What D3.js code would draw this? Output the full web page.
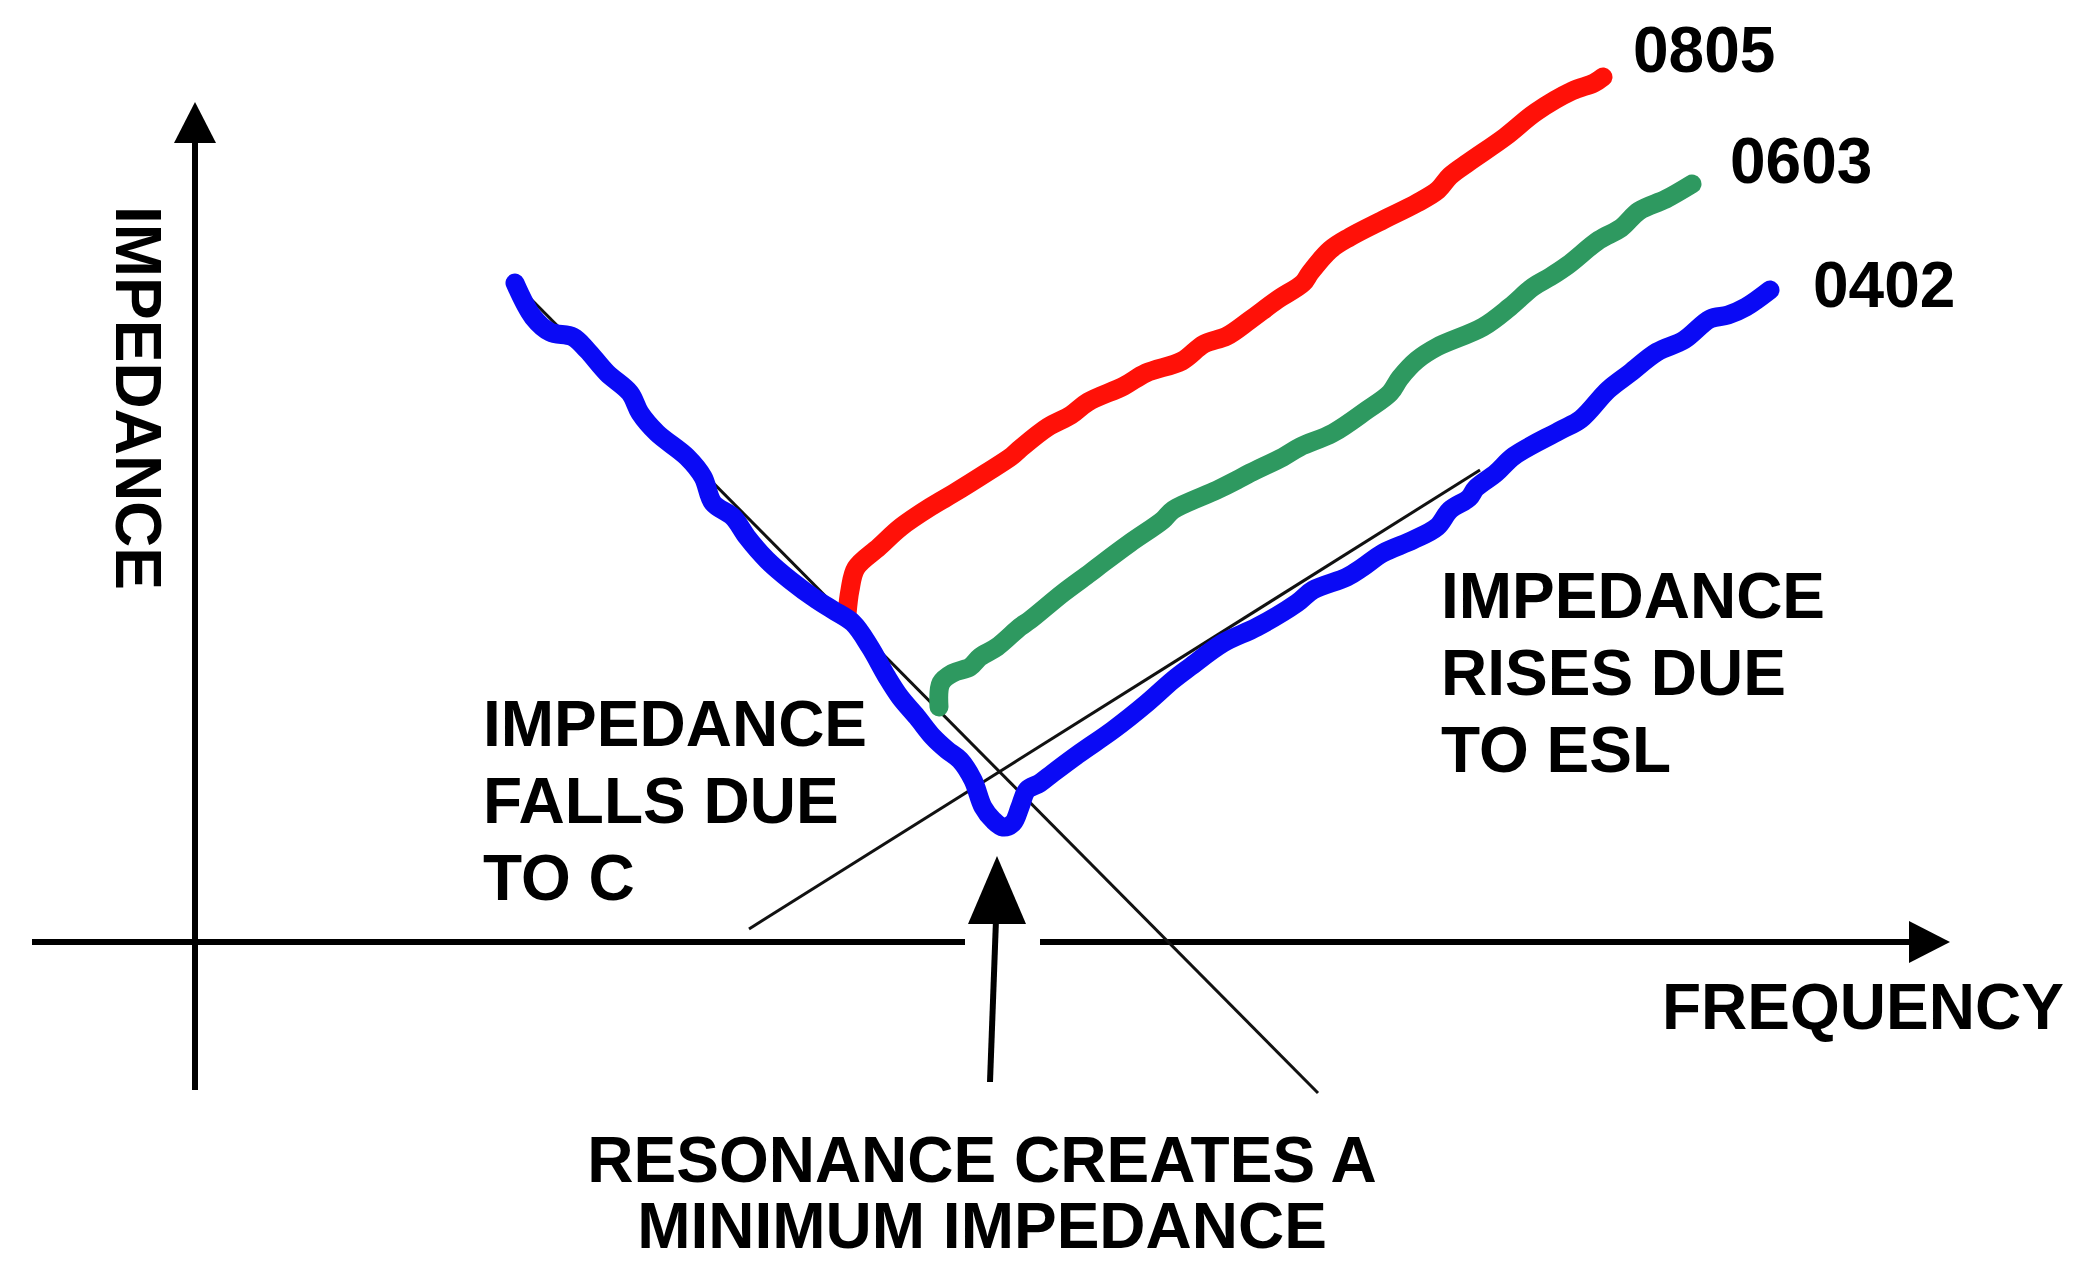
<!DOCTYPE html>
<html>
<head>
<meta charset="utf-8">
<script src="https://cdn.jsdelivr.net/npm/d3@7/dist/d3.min.js"></script>
<style>
  html, body { margin: 0; padding: 0; background: #ffffff; }
  svg { display: block; }
  text { font-family: "Liberation Sans", Arial, Helvetica, sans-serif; font-weight: bold; fill: #000; }
</style>
</head>
<body>
<svg id="chart" width="2080" height="1263"></svg>
<script>
// ---- Data (arbitrary units: frequency →, impedance ↑; origin at axis crossing) ----
const seriesNames = ["0805", "0603", "0402"];
const seriesColors = ["#ff1108", "#2e9960", "#0a0af5"];

// 0805 (red) impedance curve – inductive branch only
const data0805 = [
  [652,328],[655,352],[661,374],[684,395],[706,415],[737,436],[759,449],[791,469],
  [817,486],[826,494],[853,515],[876,527],[893,540],[929,556],[951,569],[987,581],
  [1009,598],[1032,606],[1055,622],[1082,642],[1108,659],[1115,669],[1135,692],
  [1155,705],[1188,722],[1222,739],[1243,752],[1255,766],[1274,780],[1310,805],
  [1341,830],[1377,851],[1399,859],[1408,865]
];

// 0603 (green) impedance curve – inductive branch only
const data0603 = [
  [744,235],[746,259],[758,269],[775,275],[785,285],[802,295],[825,315],[835,322],
  [868,349],[895,369],[908,379],[935,399],[968,422],[978,432],[1022,452],[1042,462],
  [1055,469],[1088,485],[1105,495],[1138,509],[1172,532],[1195,549],[1205,564],
  [1222,582],[1242,595],[1288,615],[1315,635],[1338,655],[1355,665],[1373,677],
  [1404,702],[1426,714],[1444,731],[1471,743],[1497,758]
];

// 0402 (blue) full impedance curve with resonance dip
const data0402 = [
  [320,659],[338,625],[355,610],[378,605],[392,592],[412,569],[435,549],[445,529],
  [462,509],[492,485],[508,465],[518,439],[538,425],[552,405],[572,382],[595,362],
  [622,342],[638,332],[658,319],[675,295],[692,265],[705,245],[722,225],[738,205],
  [752,192],[765,182],[778,162],[788,135],[798,122],[808,115],[818,119],[825,135],
  [832,152],[845,159],[858,169],[885,189],[918,212],[952,239],[978,262],[995,275],
  [1028,299],[1062,315],[1102,339],[1118,352],[1152,365],[1168,375],[1188,389],
  [1218,402],[1242,415],[1255,432],[1274,444],[1281,454],[1301,469],[1319,486],
  [1364,511],[1386,523],[1413,552],[1435,569],[1462,590],[1489,602],[1515,623],
  [1533,627],[1551,635],[1575,652]
];

// Asymptotes: capacitive (falling) and inductive ESL (rising)
const asymC   = [[323,656],[1123,-151]];
const asymESL = [[554,13],[1285,472]];

// Axis extents
const yAxisExtent = [-148, 840];      // impedance axis (vertical) at freq 0
const xAxisLeft   = [-163, 770];      // frequency axis segment before gap
const xAxisRight  = [845, 1755];      // frequency axis segment after gap (arrow)
const resonanceArrow = [[795,-140],[802,86]];

// Text
const axisLabelY = "IMPEDANCE";
const axisLabelX = "FREQUENCY";
const noteFalls = ["IMPEDANCE", "FALLS DUE", "TO C"];
const noteRises = ["IMPEDANCE", "RISES DUE", "TO ESL"];
const noteResonance = ["RESONANCE CREATES A", "MINIMUM IMPEDANCE"];

// ---- Drawing ----
const svg = d3.select("#chart");
const x = d3.scaleLinear().domain([0, 1755]).range([195, 1950]);
const y = d3.scaleLinear().domain([0, 840]).range([942, 102]);

const line = d3.line().x(d => x(d[0])).y(d => y(d[1]));
const smooth = d3.line().x(d => x(d[0])).y(d => y(d[1])).curve(d3.curveCatmullRom.alpha(0.5));

// Axes
const axisW = 6;
svg.append("line")
  .attr("x1", x(0)).attr("x2", x(0))
  .attr("y1", y(yAxisExtent[0])).attr("y2", y(yAxisExtent[1]) + 30)
  .attr("stroke", "#000").attr("stroke-width", axisW);
svg.append("path")
  .attr("d", `M${x(0)},${y(yAxisExtent[1])} L${x(0) - 21},${y(yAxisExtent[1]) + 41} L${x(0) + 21},${y(yAxisExtent[1]) + 41} Z`)
  .attr("fill", "#000");

svg.append("line")
  .attr("x1", x(xAxisLeft[0])).attr("x2", x(xAxisLeft[1]))
  .attr("y1", y(0)).attr("y2", y(0))
  .attr("stroke", "#000").attr("stroke-width", axisW);
svg.append("line")
  .attr("x1", x(xAxisRight[0])).attr("x2", x(xAxisRight[1]) - 30)
  .attr("y1", y(0)).attr("y2", y(0))
  .attr("stroke", "#000").attr("stroke-width", axisW);
svg.append("path")
  .attr("d", `M${x(xAxisRight[1])},${y(0)} L${x(xAxisRight[1]) - 41},${y(0) - 21} L${x(xAxisRight[1]) - 41},${y(0) + 21} Z`)
  .attr("fill", "#000");

// Asymptote thin lines
[asymC, asymESL].forEach(a => {
  svg.append("path").attr("d", line(a))
    .attr("fill", "none").attr("stroke", "#111").attr("stroke-width", 3);
});

// Curves
const allData = [data0805, data0603, data0402];
allData.forEach((d, i) => {
  svg.append("path").attr("d", smooth(d))
    .attr("fill", "none")
    .attr("stroke", seriesColors[i])
    .attr("stroke-width", 19)
    .attr("stroke-linecap", "round")
    .attr("stroke-linejoin", "round");
});

// Series labels at curve ends
const labelPos = [[1633, 72], [1730, 183], [1813, 307]];
seriesNames.forEach((n, i) => {
  svg.append("text").attr("x", labelPos[i][0]).attr("y", labelPos[i][1])
    .attr("font-size", 64).text(n);
});

// Resonance arrow
const ra0 = resonanceArrow[0], ra1 = resonanceArrow[1];
svg.append("line")
  .attr("x1", x(ra0[0])).attr("y1", y(ra0[1]))
  .attr("x2", x(ra1[0]) - 0.5).attr("y2", y(ra1[1]) + 50)
  .attr("stroke", "#000").attr("stroke-width", 6);
svg.append("path")
  .attr("d", `M${x(ra1[0])},${y(ra1[1])} L${x(ra1[0]) - 29},${y(ra1[1]) + 68} L${x(ra1[0]) + 29},${y(ra1[1]) + 68} Z`)
  .attr("fill", "#000");

// Axis labels
svg.append("text")
  .attr("transform", "translate(116,398) rotate(90)")
  .attr("text-anchor", "middle").attr("font-size", 64).text(axisLabelY);
svg.append("text").attr("x", 1662).attr("y", 1029).attr("font-size", 64).text(axisLabelX);

// Notes
noteFalls.forEach((t, i) => {
  svg.append("text").attr("x", 483).attr("y", 746 + i * 77).attr("font-size", 64).text(t);
});
noteRises.forEach((t, i) => {
  svg.append("text").attr("x", 1441).attr("y", 618 + i * 77).attr("font-size", 64).text(t);
});
noteResonance.forEach((t, i) => {
  svg.append("text").attr("x", 982).attr("y", 1182 + i * 66)
    .attr("text-anchor", "middle").attr("font-size", 64).text(t);
});
</script>
</body>
</html>
